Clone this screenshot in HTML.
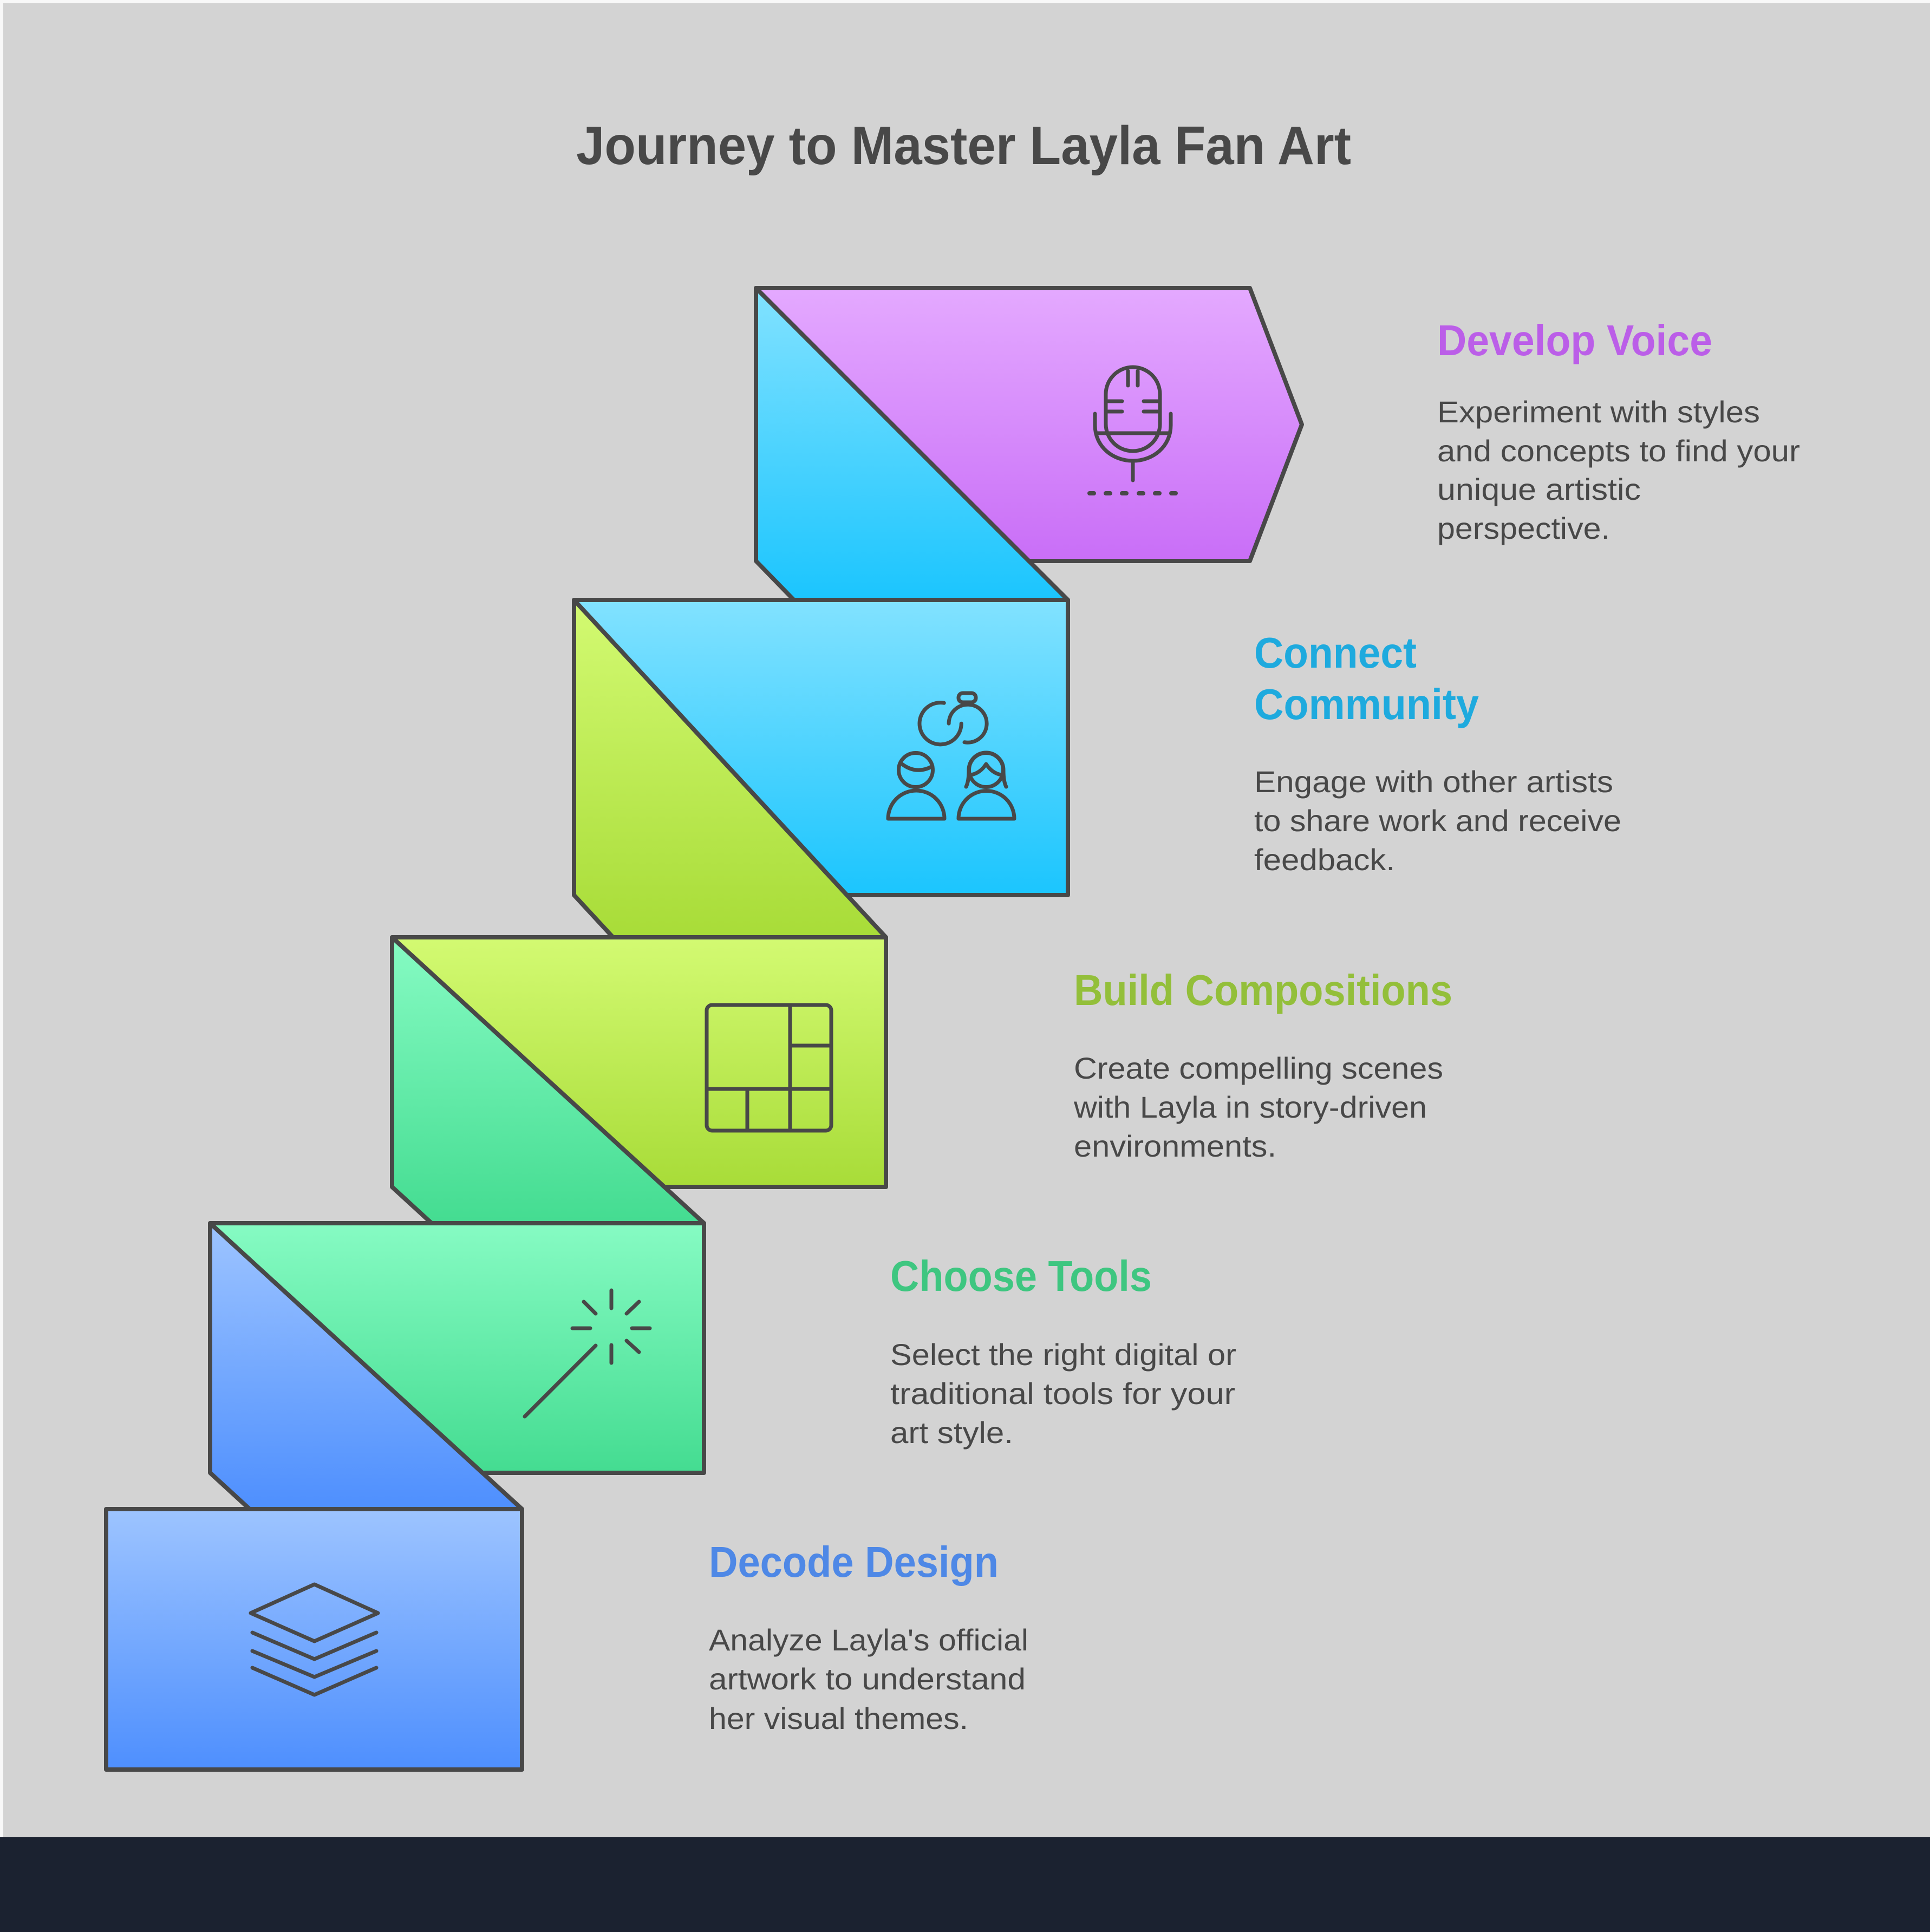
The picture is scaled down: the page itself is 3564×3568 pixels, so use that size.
<!DOCTYPE html>
<html>
<head>
<meta charset="utf-8">
<style>
  html, body { margin: 0; padding: 0; background: #f8f8f8; }
  body { width: 3564px; height: 3568px; overflow: hidden; }
  svg { display: block; }
  .t { font-family: "Liberation Sans", Arial, sans-serif; }
  .title { font-weight: bold; font-size: 100px; fill: #484848; }
  .h { font-weight: bold; font-size: 80px; }
  .b { font-size: 56px; fill: #484848; }
</style>
</head>
<body>
<svg width="3564" height="3568" viewBox="0 0 3564 3568" xmlns="http://www.w3.org/2000/svg">
  <defs>
    <linearGradient id="gP" x1="0" y1="0" x2="0" y2="1">
      <stop offset="0" stop-color="#e4a9ff"/><stop offset="1" stop-color="#c96ef7"/>
    </linearGradient>
    <linearGradient id="gC" x1="0" y1="0" x2="0" y2="1">
      <stop offset="0" stop-color="#82e2ff"/><stop offset="1" stop-color="#1bc5fe"/>
    </linearGradient>
    <linearGradient id="gL" x1="0" y1="0" x2="0" y2="1">
      <stop offset="0" stop-color="#d3fa72"/><stop offset="1" stop-color="#a8dc38"/>
    </linearGradient>
    <linearGradient id="gG" x1="0" y1="0" x2="0" y2="1">
      <stop offset="0" stop-color="#86fbc3"/><stop offset="1" stop-color="#44dc91"/>
    </linearGradient>
    <linearGradient id="gB" x1="0" y1="0" x2="0" y2="1">
      <stop offset="0" stop-color="#9dc4ff"/><stop offset="1" stop-color="#4e8ffe"/>
    </linearGradient>
  </defs>

  <!-- backgrounds -->
  <rect x="0" y="0" width="3564" height="3568" fill="#f8f8f8"/>
  <rect x="6" y="6" width="3558" height="3390" fill="#d3d3d3"/>
  <rect x="0" y="3393" width="3564" height="175" fill="#1b2230"/>

  <!-- title -->
  <text class="t title" x="1064" y="303" textLength="1431" lengthAdjust="spacingAndGlyphs">Journey to Master Layla Fan Art</text>

  <g stroke="#484848" stroke-width="8" stroke-linejoin="round">
    <rect x="196" y="2787" width="768" height="481" fill="url(#gB)"/>
    <polygon points="388,2259 388,2720 461,2787 964,2787" fill="url(#gB)"/>
    <polygon points="388,2259 1300,2259 1300,2720 891,2720" fill="url(#gG)"/>
    <polygon points="724,1731 724,2192 797,2259 1300,2259" fill="url(#gG)"/>
    <polygon points="724,1731 1636,1731 1636,2192 1227,2192" fill="url(#gL)"/>
    <polygon points="1060,1108 1060,1653 1132,1731 1636,1731" fill="url(#gL)"/>
    <polygon points="1060,1108 1972,1108 1972,1653 1564,1653" fill="url(#gC)"/>
    <polygon points="1396,532 1396,1036 1466,1108 1972,1108" fill="url(#gC)"/>
    <polygon points="1396,532 2308,532 2404,784 2308,1036 1900,1036" fill="url(#gP)"/>
  </g>

  <!-- Icons -->
  <g fill="none" stroke="#484848" stroke-width="7" stroke-linecap="round" stroke-linejoin="round">
    <!-- Microphone -->
    <rect x="2042" y="678" width="100" height="155" rx="50" ry="50"/>
    <line x1="2083" y1="685" x2="2083" y2="712"/>
    <line x1="2101" y1="685" x2="2101" y2="712"/>
    <line x1="2046" y1="741" x2="2072" y2="741"/>
    <line x1="2046" y1="760" x2="2072" y2="760"/>
    <line x1="2112" y1="741" x2="2138" y2="741"/>
    <line x1="2112" y1="760" x2="2138" y2="760"/>
    <line x1="2027" y1="800" x2="2157" y2="800"/>
    <path d="M2022,764 L2022,785 C2022,825 2055,851 2092,851 C2129,851 2162,825 2162,785 L2162,764"/>
    <line x1="2092" y1="851" x2="2092" y2="887"/>
    <g stroke-width="8">
      <line x1="2012" y1="911" x2="2020" y2="911"/>
      <line x1="2042" y1="911" x2="2050" y2="911"/>
      <line x1="2072" y1="911" x2="2080" y2="911"/>
      <line x1="2103" y1="911" x2="2111" y2="911"/>
      <line x1="2133" y1="911" x2="2141" y2="911"/>
      <line x1="2163" y1="911" x2="2171" y2="911"/>
    </g>

    <!-- People / community -->
    <path d="M1743.3,1298.2 A38.6,38.6 0 1 0 1775.2,1336.2"/>
    <path d="M1752.1,1336.2 A35,35 0 1 1 1781,1370.7"/>
    <rect x="1770" y="1280" width="32" height="17" rx="8" ry="8"/>
    <circle cx="1691" cy="1422" r="31.5"/>
    <path d="M1663,1409 Q1691,1432 1722,1415"/>
    <path d="M1640,1512 A52,52 0 0 1 1744,1512 Z"/>
    <circle cx="1821" cy="1422" r="31.5"/>
    <path d="M1784,1453 C1788,1445 1789,1435 1789,1422 A32,32 0 0 1 1853,1422 C1853,1435 1854,1445 1858,1453"/>
    <path d="M1793,1431 Q1810,1428 1821,1411 Q1832,1428 1849,1431"/>
    <path d="M1770,1512 A51.5,51.5 0 0 1 1873,1512 Z"/>

    <!-- Composition grid -->
    <rect x="1305" y="1856" width="230" height="232" rx="10" ry="10"/>
    <line x1="1459" y1="1856" x2="1459" y2="2088"/>
    <line x1="1459" y1="1931" x2="1535" y2="1931"/>
    <line x1="1305" y1="2011" x2="1535" y2="2011"/>
    <line x1="1380" y1="2011" x2="1380" y2="2088"/>

    <!-- Magic wand -->
    <line x1="1129" y1="2383" x2="1129" y2="2416"/>
    <line x1="1129" y1="2484" x2="1129" y2="2517"/>
    <line x1="1057" y1="2453" x2="1090" y2="2453"/>
    <line x1="1167" y1="2453" x2="1200" y2="2453"/>
    <line x1="1078" y1="2404" x2="1100" y2="2426"/>
    <line x1="1157" y1="2426" x2="1180" y2="2404"/>
    <line x1="1157" y1="2476" x2="1180" y2="2497"/>
    <line x1="969" y1="2616" x2="1100" y2="2485"/>

    <!-- Layers -->
    <path d="M580.6,2926 L463,2979 L580.6,3031 L698,2979 Z"/>
    <path d="M466,3015 L580.6,3064 L695,3015"/>
    <path d="M466,3049 L580.6,3097 L695,3049"/>
    <path d="M466,3080 L580.6,3130 L695,3080"/>
  </g>

  <!-- Develop Voice -->
  <text class="t h" x="2654" y="656" fill="#bb5ee8" textLength="508" lengthAdjust="spacingAndGlyphs">Develop Voice</text>
  <text class="t b" x="2654" y="780" textLength="596" lengthAdjust="spacingAndGlyphs">Experiment with styles</text>
  <text class="t b" x="2654" y="852" textLength="670" lengthAdjust="spacingAndGlyphs">and concepts to find your</text>
  <text class="t b" x="2654" y="923" textLength="376" lengthAdjust="spacingAndGlyphs">unique artistic</text>
  <text class="t b" x="2654" y="995" textLength="319" lengthAdjust="spacingAndGlyphs">perspective.</text>

  <!-- Connect Community -->
  <text class="t h" x="2316" y="1233" fill="#1eaade" textLength="300" lengthAdjust="spacingAndGlyphs">Connect</text>
  <text class="t h" x="2316" y="1328" fill="#1eaade" textLength="415" lengthAdjust="spacingAndGlyphs">Community</text>
  <text class="t b" x="2316" y="1463" textLength="663" lengthAdjust="spacingAndGlyphs">Engage with other artists</text>
  <text class="t b" x="2316" y="1535" textLength="678" lengthAdjust="spacingAndGlyphs">to share work and receive</text>
  <text class="t b" x="2316" y="1607" textLength="260" lengthAdjust="spacingAndGlyphs">feedback.</text>

  <!-- Build Compositions -->
  <text class="t h" x="1983" y="1856" fill="#93bf3a" textLength="699" lengthAdjust="spacingAndGlyphs">Build Compositions</text>
  <text class="t b" x="1983" y="1992" textLength="682" lengthAdjust="spacingAndGlyphs">Create compelling scenes</text>
  <text class="t b" x="1983" y="2064" textLength="652" lengthAdjust="spacingAndGlyphs">with Layla in story-driven</text>
  <text class="t b" x="1983" y="2136" textLength="374" lengthAdjust="spacingAndGlyphs">environments.</text>

  <!-- Choose Tools -->
  <text class="t h" x="1644" y="2384" fill="#3ec680" textLength="483" lengthAdjust="spacingAndGlyphs">Choose Tools</text>
  <text class="t b" x="1644" y="2521" textLength="639" lengthAdjust="spacingAndGlyphs">Select the right digital or</text>
  <text class="t b" x="1644" y="2593" textLength="637" lengthAdjust="spacingAndGlyphs">traditional tools for your</text>
  <text class="t b" x="1644" y="2665" textLength="227" lengthAdjust="spacingAndGlyphs">art style.</text>

  <!-- Decode Design -->
  <text class="t h" x="1309" y="2912" fill="#4e88e6" textLength="535" lengthAdjust="spacingAndGlyphs">Decode Design</text>
  <text class="t b" x="1309" y="3048" textLength="590" lengthAdjust="spacingAndGlyphs">Analyze Layla's official</text>
  <text class="t b" x="1309" y="3120" textLength="585" lengthAdjust="spacingAndGlyphs">artwork to understand</text>
  <text class="t b" x="1309" y="3193" textLength="479" lengthAdjust="spacingAndGlyphs">her visual themes.</text>
</svg>
</body>
</html>
